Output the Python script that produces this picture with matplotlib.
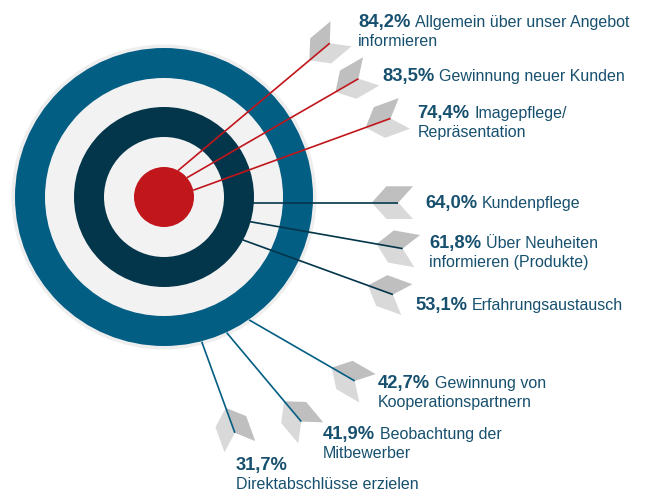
import numpy as np
import matplotlib.pyplot as plt
from matplotlib.patches import Circle, Polygon

plt.rcParams['font.family'] = ['Liberation Sans', 'DejaVu Sans']

# data
values = [84.2, 83.5, 74.4, 64.0, 61.8, 53.1, 42.7, 41.9, 31.7]
labels = [
    "Allgemein über unser Angebot\ninformieren",
    "Gewinnung neuer Kunden",
    "Imagepflege/\nRepräsentation",
    "Kundenpflege",
    "Über Neuheiten\ninformieren (Produkte)",
    "Erfahrungsaustausch",
    "Gewinnung von\nKooperationspartnern",
    "Beobachtung der\nMitbewerber",
    "\nDirektabschlüsse erzielen",
]

# layout (pixel space, y down)
center = (164, 197)
ring_hit = [0, 0, 0, 1, 1, 1, 2, 2, 2]
hit_radius = [30, 89.5, 149.5]
tip_angle = [-62, -40, -13, 3.6, 16, 28.6, 55.3, 65.2, 75.4]
shaft_angle = [-40, -30, -20, 0, 10, 20, 30, 50, 70]
shaft_len = [198, 198, 210, 145, 155, 160, 122, 116, 97]
label_xy = [(358, 26.7), (382, 81), (417.5, 118.3), (425, 208.3), (429, 248.3),
            (415, 310), (377.5, 388.3), (322.5, 439), (236, 470)]

blue = '#035E84'
dark = '#03364B'
light = '#F2F2F2'
red = '#C1161B'
shaft_colors = [red, dark, blue]
text_color = '#17506E'

fig = plt.figure(figsize=(6.53, 4.95), dpi=100)
ax = fig.add_axes([0, 0, 1, 1])
ax.set_xlim(0, 653)
ax.set_ylim(495, 0)
ax.axis('off')

# target
rings = [(152.5, '#EEEEEE'), (149, blue), (119, light), (90, dark), (60, light), (30, red)]
for r, c in rings:
    ax.add_patch(Circle(center, r, color=c, lw=0, zorder=1))

# arrows
a_len, s_len, alpha = 26.6, 22, np.radians(48)
for i in range(len(values)):
    r = hit_radius[ring_hit[i]]
    th = np.radians(tip_angle[i])
    tip = np.array([center[0] + r * np.cos(th), center[1] + r * np.sin(th)])
    ph = np.radians(shaft_angle[i])
    d = np.array([np.cos(ph), np.sin(ph)])
    tail = tip + shaft_len[i] * d
    A = tail - a_len * d
    for ang, col in [(ph - alpha, '#BFBFBF'), (ph + alpha, '#D9D9D9')]:
        e = np.array([np.cos(ang), np.sin(ang)]) * s_len
        ax.add_patch(Polygon([A, tail, tail + e, A + e], closed=True,
                             color=col, lw=0, zorder=2))
    ax.plot([tip[0], tail[0]], [tip[1], tail[1]], color=shaft_colors[ring_hit[i]],
            lw=1.2, solid_capstyle='butt', zorder=3)

# labels
renderer = fig.canvas.get_renderer()
inv = ax.transData.inverted()
line_gap = 19
for i, v in enumerate(values):
    x, y = label_xy[i]
    pct = f"{v:.1f}".replace('.', ',') + "%"
    t = ax.text(x, y, pct, fontsize=13.2, fontweight='bold', color=text_color,
                va='baseline', ha='left')
    bb = t.get_window_extent(renderer)
    x_end = inv.transform((bb.x1, bb.y0))[0]
    lines = labels[i].split('\n')
    if lines[0]:
        ax.text(x_end + 5, y, lines[0], fontsize=11.5, color=text_color,
                va='baseline', ha='left')
    for k, ln in enumerate(lines[1:], start=1):
        ax.text(x, y + k * line_gap, ln, fontsize=11.5, color=text_color,
                va='baseline', ha='left')

fig.savefig('out.png', dpi=100)
